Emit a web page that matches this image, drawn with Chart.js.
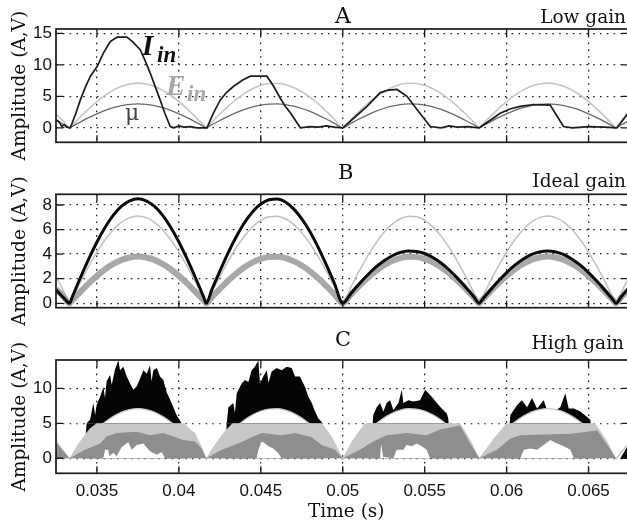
<!DOCTYPE html>
<html><head><meta charset="utf-8">
<script src="https://cdn.jsdelivr.net/npm/chart.js@4.4.1/dist/chart.umd.min.js"></script>
<style>
html,body{margin:0;padding:0;background:#fff;overflow:hidden;width:627px;height:528px;}
#wrap{position:relative;width:627px;height:528px;overflow:hidden;background:#fff;}
canvas{position:absolute;left:0;}
.t{position:absolute;font-family:"DejaVu Serif",serif;color:#111;white-space:nowrap;line-height:1;}
.lab{position:absolute;font-family:"Liberation Serif",serif;font-weight:bold;font-style:italic;white-space:nowrap;line-height:1;}
</style></head><body><div id="wrap">
<canvas id="cA" width="630" height="165" style="top:0px"></canvas>
<canvas id="cB" width="630" height="170" style="top:160px"></canvas>
<canvas id="cC" width="630" height="213" style="top:315px"></canvas>
<div class="t" style="left:335px;top:4.5px;font-size:22px">A</div>
<div class="t" style="right:1px;top:7.6px;font-size:18.5px">Low gain</div>
<div class="t" style="left:338px;top:162px;font-size:21px">B</div>
<div class="t" style="right:1px;top:172px;font-size:18.5px">Ideal gain</div>
<div class="t" style="left:335px;top:329px;font-size:21px">C</div>
<div class="t" style="right:3px;top:334.3px;font-size:18.5px">High gain</div>
<div class="t" style="left:308px;top:502.3px;font-size:18.5px">Time (s)</div>
<div class="lab" style="left:142px;top:31px;font-size:29px;color:#111">I</div>
<div class="lab" style="left:157px;top:42.5px;font-size:23px;color:#111">in</div>
<div class="lab" style="left:166px;top:70.5px;font-size:29px;color:#a8a8a8">E</div>
<div class="lab" style="left:187px;top:82px;font-size:23px;color:#a8a8a8">in</div>
<div class="t" style="left:125px;top:102.4px;font-size:22px;color:#444">μ</div>
</div>
<script>
// ---------- axes ----------
const X_MIN = 0.0325, X_MAX = 0.06747;
const xTickVals = [0.035, 0.04, 0.045, 0.05, 0.055, 0.06, 0.065];
const xTickLabels = ['0.035', '0.04', '0.045', '0.05', '0.055', '0.06', '0.065'];
const yTicksA = [0, 5, 10, 15];
const yTicksB = [0, 2, 4, 6, 8];
const yTicksC = [0, 5, 10];

// ---------- shared time grid (s) ----------
const timeGrid = [0.0325,0.0330,0.03333,0.0335,0.0340,0.0345,0.0350,0.0355,0.0360,0.0365,0.0370,0.0375,0.0380,0.0385,0.0390,0.0395,0.0400,0.0405,0.0410,0.0415,0.04167,
0.0420,0.0425,0.0430,0.0435,0.0440,0.0445,0.0450,0.0455,0.0460,0.0465,0.0470,0.0475,0.0480,0.0485,0.0490,0.0495,0.0500,
0.0505,0.0510,0.0515,0.0520,0.0525,0.0530,0.0535,0.0540,0.0545,0.0550,0.0555,0.0560,0.0565,0.0570,0.0575,0.0580,0.05833,
0.0585,0.0590,0.0595,0.0600,0.0605,0.0610,0.0615,0.0620,0.0625,0.0630,0.0635,0.0640,0.0645,0.0650,0.0655,0.0660,0.0665,0.06667,0.0670,0.0675];

// E_in (V) — light gray rectified voltage
const einVals = [2.19,0.89,0,0.45,1.77,3.02,4.17,5.17,5.99,6.60,6.97,7.10,6.97,6.60,5.99,5.17,4.17,3.02,1.77,0.45,0,
0.89,2.19,3.42,4.52,5.47,6.22,6.75,7.04,7.09,6.88,6.42,5.74,4.86,3.80,2.61,1.33,0,
1.33,2.61,3.80,4.86,5.74,6.42,6.88,7.09,7.04,6.75,6.22,5.47,4.52,3.42,2.19,0.89,0,
0.45,1.77,3.02,4.17,5.17,5.99,6.60,6.97,7.10,6.97,6.60,5.99,5.17,4.17,3.02,1.77,0.45,0,0.89,2.19];

// mu — gain reference
const muVals = [1.17,0.48,0,0.24,0.95,1.62,2.23,2.77,3.20,3.53,3.73,3.80,3.73,3.53,3.20,2.77,2.23,1.62,0.95,0.24,0,
0.48,1.17,1.83,2.42,2.93,3.33,3.61,3.77,3.79,3.68,3.43,3.07,2.60,2.03,1.40,0.71,0,
0.71,1.40,2.03,2.60,3.07,3.43,3.68,3.79,3.77,3.61,3.33,2.93,2.42,1.83,1.17,0.48,0,
0.24,0.95,1.62,2.23,2.77,3.20,3.53,3.73,3.80,3.73,3.53,3.20,2.77,2.23,1.62,0.95,0.24,0,0.48,1.17];

// I_in, panel B (ideal gain)
const iinB = [1.1,0.4,0,0.54,2.12,3.61,4.99,6.19,7.17,7.90,8.34,8.50,8.34,7.90,7.17,6.19,4.99,3.61,2.12,0.54,0,
1.07,2.62,4.09,5.41,6.55,7.45,8.08,8.43,8.49,8.24,7.68,6.87,5.82,4.55,3.12,1.59,0,
0.80,1.57,2.28,2.92,3.44,3.85,4.13,4.25,4.22,4.05,3.73,3.28,2.71,2.05,1.31,0.53,0,
0.27,1.06,1.81,2.50,3.10,3.59,3.96,4.18,4.26,4.18,3.96,3.59,3.10,2.50,1.81,1.06,0.27,0,0.53,1.31];

// I_in, panel A (low gain) — breakpoints
const iinA_t = [0.03250,0.03270,0.03285,0.03300,0.03315,0.03337,0.03370,0.03398,0.03430,0.03460,0.03500,0.03540,0.03581,0.03622,0.03683,0.03720,0.03764,0.03795,0.03825,0.03856,0.03886,0.03916,0.03947,0.03970,0.04000,0.04030,0.04070,0.04110,
0.04171,0.04210,0.04252,0.04290,0.04334,0.04390,0.04436,0.04537,0.04578,0.04619,0.04650,0.04680,0.04741,0.04800,0.04850,0.04900,0.04950,
0.05000,0.05070,0.05148,0.05229,0.05280,0.05331,0.05392,0.05453,0.05534,0.05600,0.05650,0.05700,0.05760,
0.05833,0.05900,0.05961,0.06020,0.06083,0.06164,0.06266,0.06300,0.06347,0.06400,0.06500,0.06600,0.06673,0.06725,0.06760];
const iinA_v = [1.3,0.9,0.2,0.5,0.1,0,2.2,4.4,6.5,8.2,9.7,11.9,13.7,14.4,14.4,13.6,12.4,10.6,8.7,6.5,4.4,2.2,0.2,0,0.3,0.1,0.2,0,
0,2.3,4.4,5.6,6.6,7.6,8.2,8.2,6.6,4.7,3.4,2.4,0,0.2,0.1,0.3,0.1,
0,1.6,3.4,5.6,6.0,6.1,5.0,2.9,0.2,0,0.3,0.1,0.2,
0,1.2,2.3,3.0,3.4,3.7,3.6,2.2,0.2,0,0.2,0.1,0,1.8,3.0];

// Panel C (high gain) — I_in envelope (black)
const cBlack_t = [0.03250,0.03420,0.03437,0.03458,0.03478,0.03489,0.03498,0.03519,0.03539,0.03549,0.03559,0.03580,0.03590,0.03610,0.03631,0.03641,0.03661,0.03682,0.03702,0.03722,0.03743,0.03763,0.03783,0.03804,0.03824,0.03833,0.03844,0.03865,0.03885,0.03905,0.03926,0.03946,0.03966,0.03987,0.04007,0.04017,0.04030,
0.04280,0.04292,0.04302,0.04332,0.04342,0.04353,0.04383,0.04403,0.04424,0.04444,0.04464,0.04485,0.04495,0.04515,0.04536,0.04547,0.04566,0.04597,0.04627,0.04658,0.04688,0.04709,0.04739,0.04770,0.04790,0.04811,0.04831,0.04851,0.04872,0.04885,
0.05170,0.05186,0.05207,0.05228,0.05248,0.05268,0.05289,0.05309,0.05340,0.05360,0.05370,0.05401,0.05431,0.05472,0.05503,0.05523,0.05543,0.05574,0.05604,0.05635,0.05644,0.05660,
0.06000,0.06023,0.06064,0.06094,0.06125,0.06155,0.06186,0.06226,0.06247,0.06288,0.06328,0.06358,0.06379,0.06410,0.06450,0.06491,0.06511,0.06530,
0.06694,0.06735,0.06760];
const cBlack_v = [0,0,5.0,5.5,7.9,6.2,7.6,8.8,10.2,8.6,11.0,11.9,10.5,12.7,14.0,12.6,13.1,11.7,10.7,9.8,10.3,11.4,12.6,12.1,13.3,11.0,12.6,12.9,11.7,11.2,9.4,8.4,7.3,6.1,5.4,4.9,0,
0,5.0,7.3,7.9,6.5,9.3,10.7,11.2,10.9,12.6,13.1,14.0,10.7,11.7,12.6,10.8,12.4,12.9,12.6,13.1,12.9,11.7,11.7,10.2,8.8,7.9,6.7,5.7,5.2,0,
0,6.2,7.3,7.9,6.7,7.9,8.3,6.9,7.9,9.8,7.9,8.3,8.1,8.3,9.8,9.3,8.8,7.9,7.1,6.4,5.7,0,
0,6.2,7.6,8.3,7.3,8.6,7.1,8.3,6.9,6.7,7.3,9.3,7.1,7.1,6.7,5.9,5.5,0,
0,1.6,2.6];

// Panel C — outer (light gray) region
const cOuter_t = [0.03250,0.03290,0.03333,0.03376,0.03417,0.03458,0.03498,0.04027,0.04098,0.04139,0.04167,0.04200,0.04241,0.04281,0.04322,0.04330,0.04872,0.04933,0.04980,0.05000,0.05060,0.05136,0.05716,0.05780,0.05833,0.05920,0.06000,0.06540,0.06610,0.06667,0.06760];
const cOuter_v = [2.6,1.3,0,1.7,3.1,4.3,5.0,5.0,3.6,1.7,0,1.3,2.7,3.9,4.9,5.0,5.0,3.1,1.0,0,2.6,5.0,5.0,2.6,0,2.8,5.0,5.0,2.6,0,0];

// Panel C — inner (dark gray) region
const cInner_t = [0.03250,0.03287,0.03333,0.03417,0.03519,0.03559,0.03620,0.03743,0.03824,0.03905,0.03966,0.04027,0.04098,0.04139,0.04167,
0.04261,0.04363,0.04444,0.04505,0.04627,0.04709,0.04811,0.04872,0.04953,0.05000,
0.05105,0.05186,0.05268,0.05390,0.05512,0.05594,0.05716,0.05771,0.05833,
0.05941,0.06022,0.06084,0.06226,0.06389,0.06491,0.06552,0.06607,0.06667,0.06760];
const cInner_v = [2.3,1.2,0,1.1,2.1,3.1,3.6,3.8,3.3,3.6,3.1,2.6,2.4,1.4,0,
1.2,2.1,3.0,3.6,3.3,3.6,3.0,1.9,1.2,0,
1.2,2.4,3.3,3.6,3.3,4.1,4.7,2.4,0,
1.2,2.8,3.3,3.4,3.5,3.8,4.0,2.2,0,0];

// Panel C — white gaps near zero
const cHole_t = [0.03250,0.03539,0.03549,0.03569,0.03575,0.03600,0.03620,0.03651,0.03691,0.03712,0.03743,0.03783,0.03824,0.03865,0.03895,0.03915,
0.04475,0.04485,0.04505,0.04526,0.04546,0.04576,0.04607,0.04627,
0.05228,0.05234,0.05246,0.05309,0.05329,0.05370,0.05390,0.05421,0.05451,0.05482,0.05512,0.05533,
0.06084,0.06105,0.06146,0.06186,0.06226,0.06267,0.06308,0.06349,0.06389,0.06410,0.06760];
const cHole_v = [0,0,1.2,1.2,0.3,0.8,0.3,1.6,2.3,1.2,1.9,2.1,1.0,0.5,0.9,0,
0,1.2,2.4,2.1,1.7,1.4,0.7,0,
0,2.1,0.2,0,1.2,1.2,1.9,1.7,2.1,1.7,1.2,0,
0,1.2,1.4,1.2,1.9,2.6,2.1,1.7,1.2,0,0];

// ---------- helpers ----------
const pts = (xs, ys) => xs.map((x, i) => ({x: x, y: ys[i]}));

const framePlugin = {
  id: 'frame',
  afterDraw(chart) {
    const {ctx, chartArea: a, scales} = chart;
    ctx.save();
    ctx.strokeStyle = '#1a1a1a';
    ctx.lineWidth = 1.7;
    ctx.strokeRect(a.left, a.top, a.right - a.left, a.bottom - a.top);
    ctx.lineWidth = 1.3;
    ctx.beginPath();
    scales.x.ticks.forEach(t => {
      const x = scales.x.getPixelForValue(t.value);
      ctx.moveTo(x, a.bottom); ctx.lineTo(x, a.bottom - 7);
      ctx.moveTo(x, a.top); ctx.lineTo(x, a.top + 7);
    });
    scales.y.ticks.forEach(t => {
      const y = scales.y.getPixelForValue(t.value);
      ctx.moveTo(a.left, y); ctx.lineTo(a.left + 7, y);
      ctx.moveTo(a.right, y); ctx.lineTo(a.right - 7, y);
    });
    ctx.stroke();
    ctx.restore();
  }
};

function makeChart(id, cfg) {
  return new Chart(document.getElementById(id), {
    type: 'line',
    data: {datasets: cfg.datasets},
    plugins: [framePlugin],
    options: {
      responsive: false,
      animation: false,
      events: [],
      layout: {padding: {top: cfg.padTop, left: 0, right: 1, bottom: 0}},
      elements: {point: {radius: 0}},
      plugins: {legend: {display: false}, tooltip: {enabled: false}},
      scales: {
        x: {
          type: 'linear', min: X_MIN, max: X_MAX,
          afterBuildTicks: s => { s.ticks = xTickVals.map(v => ({value: v})); },
          afterFit: s => { s.height = cfg.xHeight; },
          ticks: {
            display: cfg.xLabels, autoSkip: false, maxRotation: 0, padding: 8,
            color: '#111', font: {family: '"Liberation Sans", Arial, sans-serif', size: 17},
            callback: (v, i) => xTickLabels[i]
          },
          grid: {color: '#222', lineWidth: 1.3, drawTicks: false},
          border: {display: false, dash: [1.6, 5.2]}
        },
        y: {
          type: 'linear', min: cfg.yMin, max: cfg.yMax,
          afterBuildTicks: s => { s.ticks = cfg.yTicks.map(v => ({value: v})); },
          afterFit: s => { s.width = 56; },
          ticks: {
            padding: 4, color: '#111',
            font: {family: '"Liberation Sans", Arial, sans-serif', size: 17},
            callback: v => String(v)
          },
          title: {
            display: true, text: 'Amplitude (A,V)', color: '#111',
            font: {family: '"DejaVu Serif", serif', size: 18.5},
            padding: {top: 9, bottom: 0}
          },
          grid: {color: '#222', lineWidth: 1.3, drawTicks: false},
          border: {display: false, dash: [1.6, 5.2]}
        }
      }
    }
  });
}

// ---------- Panel A ----------
makeChart('cA', {
  padTop: 29, xHeight: 165 - 142.3, xLabels: false,
  yMin: -2.3, yMax: 15.7, yTicks: yTicksA,
  datasets: [
    {label: 'I_in', data: pts(iinA_t, iinA_v), borderColor: '#1c1c1c', borderWidth: 1.7, fill: false, order: 1},
    {label: 'mu', data: pts(timeGrid, muVals), borderColor: '#6a6a6a', borderWidth: 1.3, fill: false, cubicInterpolationMode: 'monotone', order: 2},
    {label: 'E_in', data: pts(timeGrid, einVals), borderColor: '#c6c6c6', borderWidth: 1.6, fill: false, cubicInterpolationMode: 'monotone', order: 3}
  ]
});

// ---------- Panel B ----------
makeChart('cB', {
  padTop: 34.3, xHeight: 170 - 147.7, xLabels: false,
  yMin: -0.36, yMax: 8.87, yTicks: yTicksB,
  datasets: [
    {label: 'I_in', data: pts(timeGrid, iinB), borderColor: '#0a0a0a', borderWidth: 3, fill: false, cubicInterpolationMode: 'monotone', order: 1},
    {label: 'mu', data: pts(timeGrid, muVals), borderColor: '#a8a8a8', borderWidth: 6, fill: false, cubicInterpolationMode: 'monotone', order: 2},
    {label: 'E_in', data: pts(timeGrid, einVals), borderColor: '#c0c0c0', borderWidth: 1.5, fill: false, cubicInterpolationMode: 'monotone', order: 3}
  ]
});

// ---------- Panel C ----------
makeChart('cC', {
  padTop: 45, xHeight: 213 - 158.3, xLabels: true,
  yMin: -2.15, yMax: 14.05, yTicks: yTicksC,
  datasets: [
    {label: 'gap', data: pts(cHole_t, cHole_v), borderWidth: 0, borderColor: 'rgba(0,0,0,0)', backgroundColor: '#ffffff', fill: 'origin', order: 1},
    {label: 'mu low', data: pts(cInner_t, cInner_v), borderWidth: 0, borderColor: 'rgba(0,0,0,0)', backgroundColor: '#8e8e8e', fill: 'origin', order: 2},
    {label: 'mu high', data: pts(cOuter_t, cOuter_v), borderWidth: 0, borderColor: 'rgba(0,0,0,0)', backgroundColor: '#c8c8c8', fill: 'origin', order: 3},
    {label: 'E_in', data: pts(timeGrid, einVals), borderColor: '#c4c4c4', borderWidth: 1.3, cubicInterpolationMode: 'monotone',
      fill: {target: {value: 5}, above: '#ffffff', below: 'rgba(0,0,0,0)'}, order: 4},
    {label: 'I_in', data: pts(cBlack_t, cBlack_v), borderWidth: 0, borderColor: 'rgba(0,0,0,0)', backgroundColor: '#050505', fill: 'origin', order: 5}
  ]
});
</script>
</body></html>
